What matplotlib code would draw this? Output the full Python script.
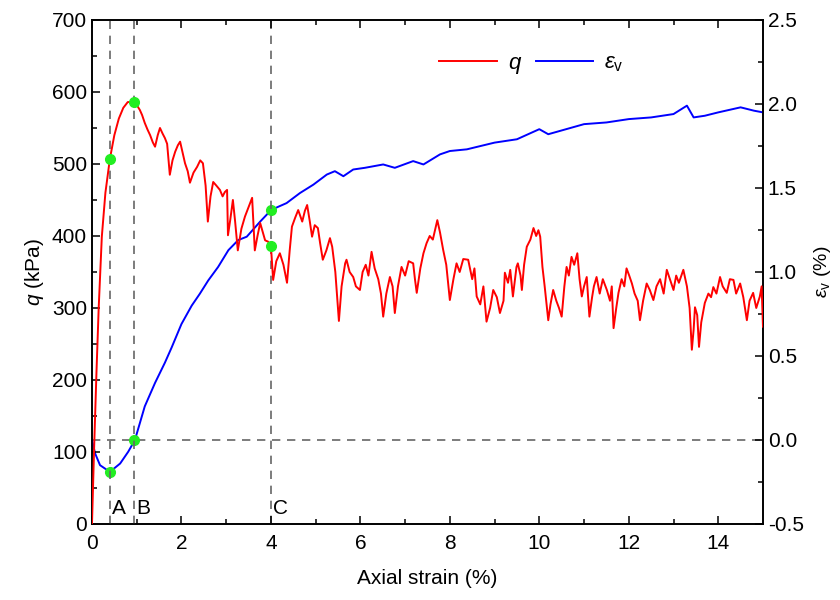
import numpy as np
import matplotlib.pyplot as plt

plt.rcParams['font.family'] = ['Liberation Sans', 'DejaVu Sans']
plt.rcParams['mathtext.fontset'] = 'custom'
plt.rcParams['mathtext.rm'] = 'Liberation Sans'
plt.rcParams['mathtext.it'] = 'Liberation Sans:italic'

# deviator stress q (kPa) vs axial strain (%)
strain_q = [0.0, 0.05, 0.1, 0.15, 0.22, 0.3, 0.4, 0.5, 0.6, 0.7, 0.8, 0.94, 1.0, 1.07, 1.12,
            1.18, 1.24, 1.30, 1.36, 1.41, 1.47, 1.52, 1.58, 1.63, 1.68, 1.74, 1.80, 1.86, 1.92,
            1.97, 2.03, 2.08, 2.14, 2.19, 2.27, 2.35, 2.42, 2.48, 2.54, 2.59, 2.65, 2.71, 2.78,
            2.86, 2.92, 2.97, 3.02, 3.04, 3.09, 3.15, 3.2, 3.26, 3.34, 3.42, 3.5, 3.58, 3.64,
            3.7, 3.76, 3.82, 3.87, 3.94, 4.0, 4.05, 4.12, 4.2, 4.28, 4.36, 4.42, 4.47, 4.54,
            4.61, 4.7, 4.76, 4.81, 4.87, 4.92, 4.98, 5.05, 5.10, 5.16, 5.24, 5.32, 5.37, 5.44,
            5.50, 5.52, 5.58, 5.66, 5.69, 5.76, 5.84, 5.9, 5.99, 6.05, 6.12, 6.18, 6.25, 6.32,
            6.40, 6.46, 6.51, 6.58, 6.66, 6.72, 6.77, 6.84, 6.92, 7.0, 7.08, 7.18, 7.22, 7.26,
            7.34, 7.41, 7.48, 7.55, 7.62, 7.72, 7.78, 7.85, 7.92, 8.0, 8.08, 8.15, 8.22, 8.30,
            8.41, 8.5, 8.55, 8.60, 8.68, 8.75, 8.82, 8.9, 8.97, 9.05, 9.12, 9.2, 9.23, 9.30,
            9.35, 9.41, 9.49, 9.52, 9.58, 9.61, 9.66, 9.72, 9.80, 9.87, 9.93, 9.98, 10.02, 10.07,
            10.12, 10.2, 10.25, 10.31, 10.38, 10.44, 10.50, 10.56, 10.61, 10.66, 10.72, 10.78,
            10.85, 10.90, 10.95, 11.00, 11.06, 11.12, 11.18, 11.22, 11.28, 11.35, 11.42, 11.51,
            11.58, 11.62, 11.66, 11.72, 11.77, 11.84, 11.90, 11.95, 12.01, 12.07, 12.13, 12.2,
            12.25, 12.32, 12.40, 12.47, 12.55, 12.62, 12.7, 12.78, 12.85, 12.92, 13.0, 13.06,
            13.12, 13.22, 13.3, 13.36, 13.41, 13.45, 13.48, 13.53, 13.57, 13.62, 13.70, 13.78,
            13.84, 13.89, 13.96, 14.04, 14.1, 14.19, 14.26, 14.34, 14.4, 14.49, 14.56, 14.64,
            14.7, 14.78, 14.85, 14.93, 14.97, 15.0]
q_vals = [0, 110, 210, 300, 399, 460, 507, 540, 563, 578, 586, 586, 582, 575, 568,
          557, 548, 540, 530, 524, 540, 550, 542, 536, 528, 485, 505, 517, 526,
          531, 515, 501, 490, 474, 488, 496, 505, 501, 470, 420, 455, 475, 470,
          464, 455, 461, 464, 401, 422, 450, 420, 380, 410, 427, 440, 453, 380,
          400, 418, 405, 394, 392, 386, 339, 365, 376, 360, 335, 380, 413, 425,
          436, 420, 435, 443, 420, 399, 415, 411, 390, 367, 380, 397, 385, 350,
          300, 282, 330, 362, 367, 350, 343, 330, 325, 350, 360, 345, 378, 355,
          340, 320, 288, 320, 343, 330, 293, 330, 357, 345, 365, 362, 340, 321,
          355, 376, 390, 400, 395, 422, 405, 381, 360, 311, 340, 362, 350, 368,
          367, 340, 355, 316, 305, 330, 281, 300, 325, 315, 293, 310, 349, 335,
          353, 316, 357, 362, 345, 325, 360, 385, 395, 411, 400, 408, 399, 357,
          330, 283, 305, 325, 310, 300, 288, 330, 357, 345, 371, 360,
          376, 340, 316, 330, 343, 288, 315, 330, 343, 320, 340, 325,
          310, 330, 272, 300, 321, 340, 330, 355, 345, 334, 320, 310,
          283, 310, 334, 325, 311, 330, 340, 320, 353, 340, 325, 345,
          335, 353, 330, 300, 242, 270, 301, 290, 246, 280, 307, 320,
          315, 329, 320, 343, 330, 321, 340, 339, 320, 334, 315, 283,
          310, 321, 300, 316, 330, 274]

# volumetric strain (%) vs axial strain (%)
strain_ev = [0.0, 0.07, 0.18, 0.40, 0.63, 0.81, 0.96, 1.18, 1.41, 1.63, 1.78, 2.0, 2.23,
             2.41, 2.60, 2.82, 3.05, 3.27, 3.46, 3.76, 4.01, 4.35, 4.65, 4.95, 5.25, 5.43,
             5.62, 5.84, 6.1, 6.51, 6.77, 7.18, 7.41, 7.78, 8.0, 8.38, 9.0, 9.5, 10.0, 10.2,
             10.6, 11.0, 11.5, 12.0, 12.5, 13.0, 13.3, 13.45, 13.7, 14.0, 14.5, 14.8, 15.0]
ev_vals = [0.0, -0.08, -0.15, -0.19, -0.14, -0.07, 0.0, 0.20, 0.34, 0.46, 0.55, 0.69, 0.80,
           0.87, 0.95, 1.03, 1.13, 1.19, 1.21, 1.30, 1.37, 1.41, 1.47, 1.52, 1.58, 1.60,
           1.57, 1.61, 1.62, 1.64, 1.62, 1.66, 1.64, 1.70, 1.72, 1.73, 1.77, 1.79, 1.85, 1.82,
           1.85, 1.88, 1.89, 1.91, 1.92, 1.94, 1.99, 1.92, 1.93, 1.95, 1.98, 1.96, 1.95]

# marked states A, B, C
mark_strain = [0.4, 0.95, 4.0]
mark_labels = ['A', 'B', 'C']
mark_q = [507, 586, 386]
mark_ev = [-0.19, 0.0, 1.37]

fig = plt.figure(figsize=(8.4, 6.0), dpi=100)
ax = fig.add_axes([0.1095, 0.1267, 0.7988, 0.84])
ax2 = ax.twinx()
ax.set_zorder(ax2.get_zorder() + 1)
ax.patch.set_visible(False)

for xs in mark_strain:
    ax.axvline(xs, color='#666666', lw=1.2, ls=(0, (5, 4)), zorder=1)
ax2.axhline(0.0, color='#666666', lw=1.2, ls=(0, (5, 4)), zorder=1)

l1, = ax.plot(strain_q, q_vals, color='#ff0000', lw=1.4, label='$q$', zorder=3)
l2, = ax2.plot(strain_ev, ev_vals, color='#0000ff', lw=1.4,
               label=r'$\varepsilon_\mathrm{v}$', zorder=3)
ax.plot(mark_strain, mark_q, 'o', color='#22ee22', ms=7, zorder=5)
ax2.plot(mark_strain, mark_ev, 'o', color='#22ee22', ms=7, zorder=5)

for xs, lab in zip(mark_strain, mark_labels):
    ax.text(xs + 0.04, 8, lab, fontsize=15, ha='left', va='bottom')

ax.set_xlim(0, 15)
ax.set_ylim(0, 700)
ax2.set_ylim(-0.5, 2.5)
ax.set_xticks(np.arange(0, 15, 2))
ax.set_xticks(np.arange(1, 15, 2), minor=True)
ax.set_yticks(np.arange(0, 701, 100))
ax.set_yticks(np.arange(50, 700, 100), minor=True)
ax2.set_yticks(np.arange(-0.5, 2.51, 0.5))
ax2.set_yticks(np.arange(-0.25, 2.5, 0.5), minor=True)
ax2.set_yticklabels(['%.1f' % v for v in np.arange(-0.5, 2.51, 0.5)])

ax.tick_params(axis='both', which='both', direction='in', labelsize=15, width=1.1)
ax.tick_params(axis='x', which='both', top=True)
ax.tick_params(which='major', length=6)
ax.tick_params(which='minor', length=3.5)
ax.tick_params(axis='x', pad=7)
ax2.tick_params(axis='y', which='both', direction='in', labelsize=15, width=1.1)
ax2.tick_params(which='major', length=6)
ax2.tick_params(which='minor', length=3.5)
for a in (ax, ax2):
    for s in a.spines.values():
        s.set_linewidth(1.2)

ax.set_xlabel('Axial strain (%)', fontsize=15, labelpad=12)
ax.set_ylabel('$q$ (kPa)', fontsize=15, labelpad=4)
ax2.set_ylabel(r'$\varepsilon_\mathrm{v}$ (%)', fontsize=14, labelpad=6)

ax.legend(handles=[l1, l2], loc='upper center', bbox_to_anchor=(0.655, 0.975), ncol=2,
          frameon=False, fontsize=16, handlelength=2.6, columnspacing=0.6, handletextpad=0.5)

fig.savefig('out.png', dpi=100)
